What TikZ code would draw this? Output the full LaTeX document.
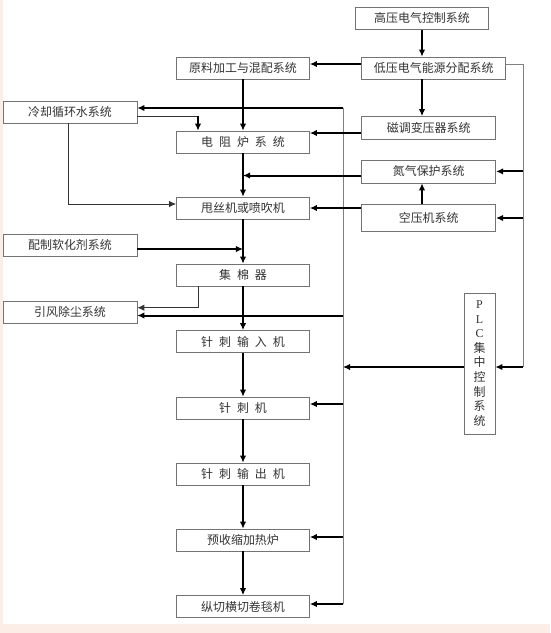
\documentclass[tikz,border=0pt]{standalone}
\usepackage{fontspec}
\setmainfont{Noto Sans CJK SC}
\newfontfamily\xifont{Liberation Serif}
\usetikzlibrary{arrows.meta}
\definecolor{fenhong}{HTML}{FCEEE6}
\newcommand{\jg}{\hspace{0.5em}}

\begin{document}
\begin{tikzpicture}[
    x=0.03cm, y=-0.03cm,
    font=\fontsize{10.2pt}{12pt}\selectfont,
    >={Latex[length=6pt,width=5.5pt]},
    kuang/.style={draw=black!55, line width=0.6pt, text=black!80, inner sep=0pt, minimum height=0.66cm},
    zhu/.style={kuang, minimum width=3.99cm},
    pang/.style={kuang, minimum width=4.02cm},
    cu/.style={line width=1.7pt, ->},
    xi/.style={black!80, line width=0.75pt},
    hui/.style={black!50, line width=0.8pt},
  ]

  % --- fondo ------------------------------------------------------------
  \useasboundingbox (0,0) rectangle (550,633);
  \fill[fenhong] (0,0) rectangle (550,633);
  \fill[white] (3,0) rectangle (550,624);

  % --- colonna centrale -------------------------------------------------
  \node[zhu] (yl) at (243,68)    {原料加工与混配系统};
  \node[zhu] (dz) at (243,142)   {电\jg 阻\jg 炉\jg 系\jg 统};
  \node[zhu] (sj) at (243,208)   {甩丝机或喷吹机};
  \node[zhu] (jm) at (243,275)   {集\jg 棉\jg 器};
  \node[zhu] (zr) at (243,341.5) {针\jg 刺\jg 输\jg 入\jg 机};
  \node[zhu] (zc) at (243,408)   {针\jg 刺\jg 机};
  \node[zhu] (zo) at (243,474)   {针\jg 刺\jg 输\jg 出\jg 机};
  \node[zhu] (ys) at (243,540)   {预收缩加热炉};
  \node[zhu] (zq) at (243,606.5) {纵切横切卷毯机};

  % --- sinistra ---------------------------------------------------------
  \node[pang] (lq) at (70,112) {冷却循环水系统};
  \node[pang] (pz) at (70,245) {配制软化剂系统};
  \node[pang] (yf) at (70,312) {引风除尘系统};

  % --- destra -----------------------------------------------------------
  \node[kuang, minimum width=3.99cm] (gy) at (422,18.3) {高压电气控制系统};
  \node[kuang, minimum width=4.32cm] (dy) at (433.7,68)   {低压电气能源分配系统};
  \node[pang, minimum height=0.69cm] (ct) at (428.7,128)   {磁调变压器系统};
  \node[pang, minimum height=0.69cm] (dq) at (428.7,171.4) {氮气保护系统};
  \node[pang, minimum height=0.81cm] (ky) at (428.7,218)   {空压机系统};
  \node[kuang, minimum width=0.93cm, minimum height=4.23cm, align=center,
        font=\fontsize{10.2pt}{12.4pt}\selectfont] (plc) at (479.5,363.5)
    {{\xifont P}\\{\xifont L}\\{\xifont C}\\集\\中\\控\\制\\系\\统};

  % --- linee di raccolta (grigie) ---------------------------------------
  \coordinate (zx1) at (343,108);
  \coordinate (zx2) at (343,604);
  \coordinate (yx1) at (523,64);
  \coordinate (yx2) at (523,367);
  \draw[hui] (zx1) -- (zx2);
  \draw[hui] (dy.east |- yx1) -- (yx1) -- (yx2);

  % --- flusso principale ------------------------------------------------
  \foreach \a/\b in {yl/dz, dz/sj, sj/jm, jm/zr, zr/zc, zc/zo, zo/ys, ys/zq}{%
    \draw[cu] (\a) -- (\b);
  }

  % --- alimentazione e aria ---------------------------------------------
  \draw[cu] (gy.south) -- (gy.south |- dy.north);
  \draw[cu] (gy.south |- dy.south) -- (gy.south |- ct.north);
  \draw[cu] (gy.south |- ky.north) -- (gy.south |- dq.south);
  \draw[cu] (dy.west |- yx1) -- (yl.east |- yx1);
  \draw[cu] (ct.west |- 0,133) -- (dz.east |- 0,133);
  \coordinate (hz1) at (243,175.5);
  \draw[cu] (dq.west |- hz1) -- (hz1);
  \draw[cu] (ky.west |- sj.east) -- (sj.east);
  \draw[cu] (yx1 |- dq.east) -- (dq.east);
  \draw[cu] (yx1 |- ky.east) -- (ky.east);

  % --- PLC --------------------------------------------------------------
  \draw[cu] (yx2) -- (plc.east |- yx2);
  \draw[cu, line width=1.1pt] (plc.west |- yx2) -- (zx1 |- yx2);
  \draw[cu] (zx1) -- (lq.east |- zx1);
  \draw[cu] (zx1 |- 0,315.5) -- (yf.east |- 0,315.5);
  \draw[cu] (zx1 |- 0,404) -- (zc.east |- 0,404);
  \draw[cu] (zx1 |- 0,537) -- (ys.east |- 0,537);
  \draw[cu] (zx2) -- (zq.east |- zx2);

  % --- acqua di raffreddamento ------------------------------------------
  \coordinate (lqz) at (198,116);
  \coordinate (lqd) at (68,204);
  \draw[xi] (lq.east |- lqz) -- (lqz);
  \draw[cu] (lqz) -- (lqz |- dz.north);
  \draw[xi, ->] (lqd |- lq.south) -- (lqd) -- (sj.west |- lqd);

  % --- ammorbidente e polveri -------------------------------------------
  \coordinate (hz2) at (243,249);
  \draw[cu] (pz.east |- hz2) -- (hz2);
  \coordinate (jmz) at (198,307.7);
  \draw[xi, ->] (jmz |- jm.south) -- (jmz) -- (yf.east |- jmz);

\end{tikzpicture}
\end{document}
